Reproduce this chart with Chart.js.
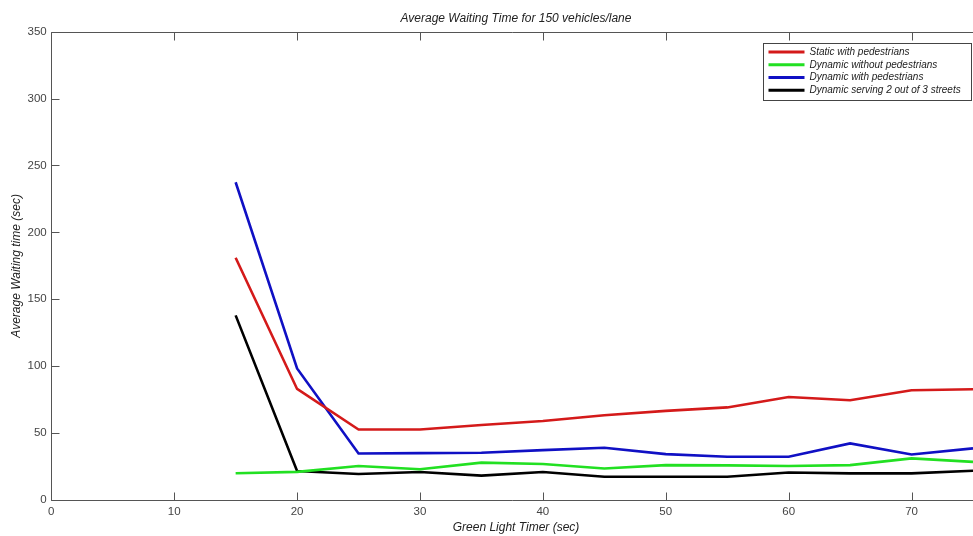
<!DOCTYPE html>
<html>
<head>
<meta charset="utf-8">
<script src="https://cdn.jsdelivr.net/npm/chart.js@4.4.1/dist/chart.umd.min.js"></script>
<style>
  html, body { margin: 0; padding: 0; background: #fff; overflow: hidden; }
  canvas { display: block; }
</style>
</head>
<body>
<canvas id="waitChart" width="973" height="536"></canvas>
<script>
// Green light timer values (sec)
const timers = [15, 20, 25, 30, 35, 40, 45, 50, 55, 60, 65, 70, 75];

// Average waiting time (sec) per scenario
const staticWithPed = [181, 83, 52.7, 52.7, 56, 59, 63.4, 66.6, 69.2, 77, 74.6, 82, 82.8];
const dynamicNoPed = [20, 21, 25.4, 23, 27.9, 26.9, 23.6, 26.1, 25.9, 25.4, 26.1, 31.1, 28.5];
const dynamicWithPed = [237.5, 98.3, 34.8, 35, 35.3, 37.3, 39, 34.3, 32.3, 32.3, 42.3, 34, 38.6];
const dynamicTwoOfThree = [138, 21.6, 19.4, 20.9, 18.2, 20.9, 17.4, 17.4, 17.4, 20.6, 19.9, 19.9, 21.9];

const seriesNames = ['Static with pedestrians', 'Dynamic without pedestrians', 'Dynamic with pedestrians', 'Dynamic serving 2 out of 3 streets'];
const seriesColors = ['#d41a1a', '#22e022', '#1010c4', '#000000'];

// Axis ticks
const xTicks = [0, 10, 20, 30, 40, 50, 60, 70];
const yTicks = [0, 50, 100, 150, 200, 250, 300, 350];

const FONT = '"Liberation Sans", Arial, sans-serif';

function toPoints(values) {
    return timers.map((t, i) => ({ x: t, y: values[i] }));
}

// Draws the MATLAB-like axes (cropped on the right), inward ticks, titles and the legend box
const matlabFrame = {
    id: 'matlabFrame',
    afterDraw(chart) {
        const { ctx, chartArea: a, scales: { x, y } } = chart;
        const L = Math.round(a.left) + 0.5, R = a.right;
        const T = Math.round(a.top) + 0.5, B = Math.round(a.bottom) + 0.5;
        ctx.save();
        ctx.strokeStyle = '#555';
        ctx.lineWidth = 1;
        ctx.beginPath();
        ctx.moveTo(R, T); ctx.lineTo(L, T); ctx.lineTo(L, B); ctx.lineTo(R, B);
        ctx.stroke();

        // inward tick marks
        ctx.beginPath();
        xTicks.forEach(v => {
            const px = Math.round(x.getPixelForValue(v)) + 0.5;
            ctx.moveTo(px, B); ctx.lineTo(px, B - 8);
            ctx.moveTo(px, T); ctx.lineTo(px, T + 8);
        });
        yTicks.forEach(v => {
            const py = Math.round(y.getPixelForValue(v)) + 0.5;
            ctx.moveTo(L, py); ctx.lineTo(L + 8, py);
        });
        ctx.stroke();

        // titles
        ctx.fillStyle = '#222';
        ctx.font = 'italic 12px ' + FONT;
        ctx.textAlign = 'center';
        ctx.textBaseline = 'middle';
        ctx.fillText('Average Waiting Time for 150 vehicles/lane', 516, 19);
        ctx.fillText('Green Light Timer (sec)', 516, 528);
        ctx.save();
        ctx.translate(17, (a.top + a.bottom) / 2);
        ctx.rotate(-Math.PI / 2);
        ctx.fillText('Average Waiting time (sec)', 0, 0);
        ctx.restore();

        // legend box
        const bx = 763.5, by = 43.5, bw = 208, bh = 57;
        ctx.fillStyle = '#fff';
        ctx.fillRect(bx, by, bw, bh);
        ctx.strokeStyle = '#444';
        ctx.strokeRect(bx, by, bw, bh);
        ctx.font = 'italic 10px ' + FONT;
        ctx.textAlign = 'left';
        chart.data.datasets.forEach((ds, i) => {
            const ry = by + 8.5 + i * 12.75;
            ctx.strokeStyle = ds.borderColor;
            ctx.lineWidth = 3;
            ctx.beginPath();
            ctx.moveTo(bx + 5, ry); ctx.lineTo(bx + 41, ry);
            ctx.stroke();
            ctx.fillStyle = '#222';
            ctx.fillText(ds.label, bx + 46, ry);
        });
        ctx.restore();
    }
};

const datasets = [staticWithPed, dynamicNoPed, dynamicWithPed, dynamicTwoOfThree].map((vals, i) => ({
    label: seriesNames[i],
    data: toPoints(vals),
    borderColor: seriesColors[i],
    backgroundColor: seriesColors[i],
    borderWidth: 2.6,
    pointRadius: 0,
    tension: 0,
    fill: false
}));

new Chart(document.getElementById('waitChart'), {
    type: 'line',
    data: { datasets: datasets },
    options: {
        responsive: false,
        animation: false,
        events: [],
        layout: { padding: { top: 31.7, right: 0, left: 0, bottom: 0 } },
        plugins: {
            legend: { display: false },
            tooltip: { enabled: false },
            title: { display: false }
        },
        scales: {
            x: {
                type: 'linear',
                min: 0,
                max: 75,
                afterBuildTicks: s => { s.ticks = xTicks.map(v => ({ value: v })); },
                afterFit: s => { s.height = 36; },
                grid: { display: false, drawTicks: false },
                border: { display: false },
                ticks: {
                    color: '#444',
                    font: { family: FONT, size: 11.5 },
                    padding: 5,
                    maxRotation: 0,
                    autoSkip: false
                }
            },
            y: {
                min: 0,
                max: 350,
                afterBuildTicks: s => { s.ticks = yTicks.map(v => ({ value: v })); },
                afterFit: s => { s.width = 51.3; },
                grid: { display: false, drawTicks: false },
                border: { display: false },
                ticks: {
                    color: '#444',
                    font: { family: FONT, size: 11.5 },
                    padding: 4.6
                }
            }
        }
    },
    plugins: [matlabFrame]
});
</script>
</body>
</html>
